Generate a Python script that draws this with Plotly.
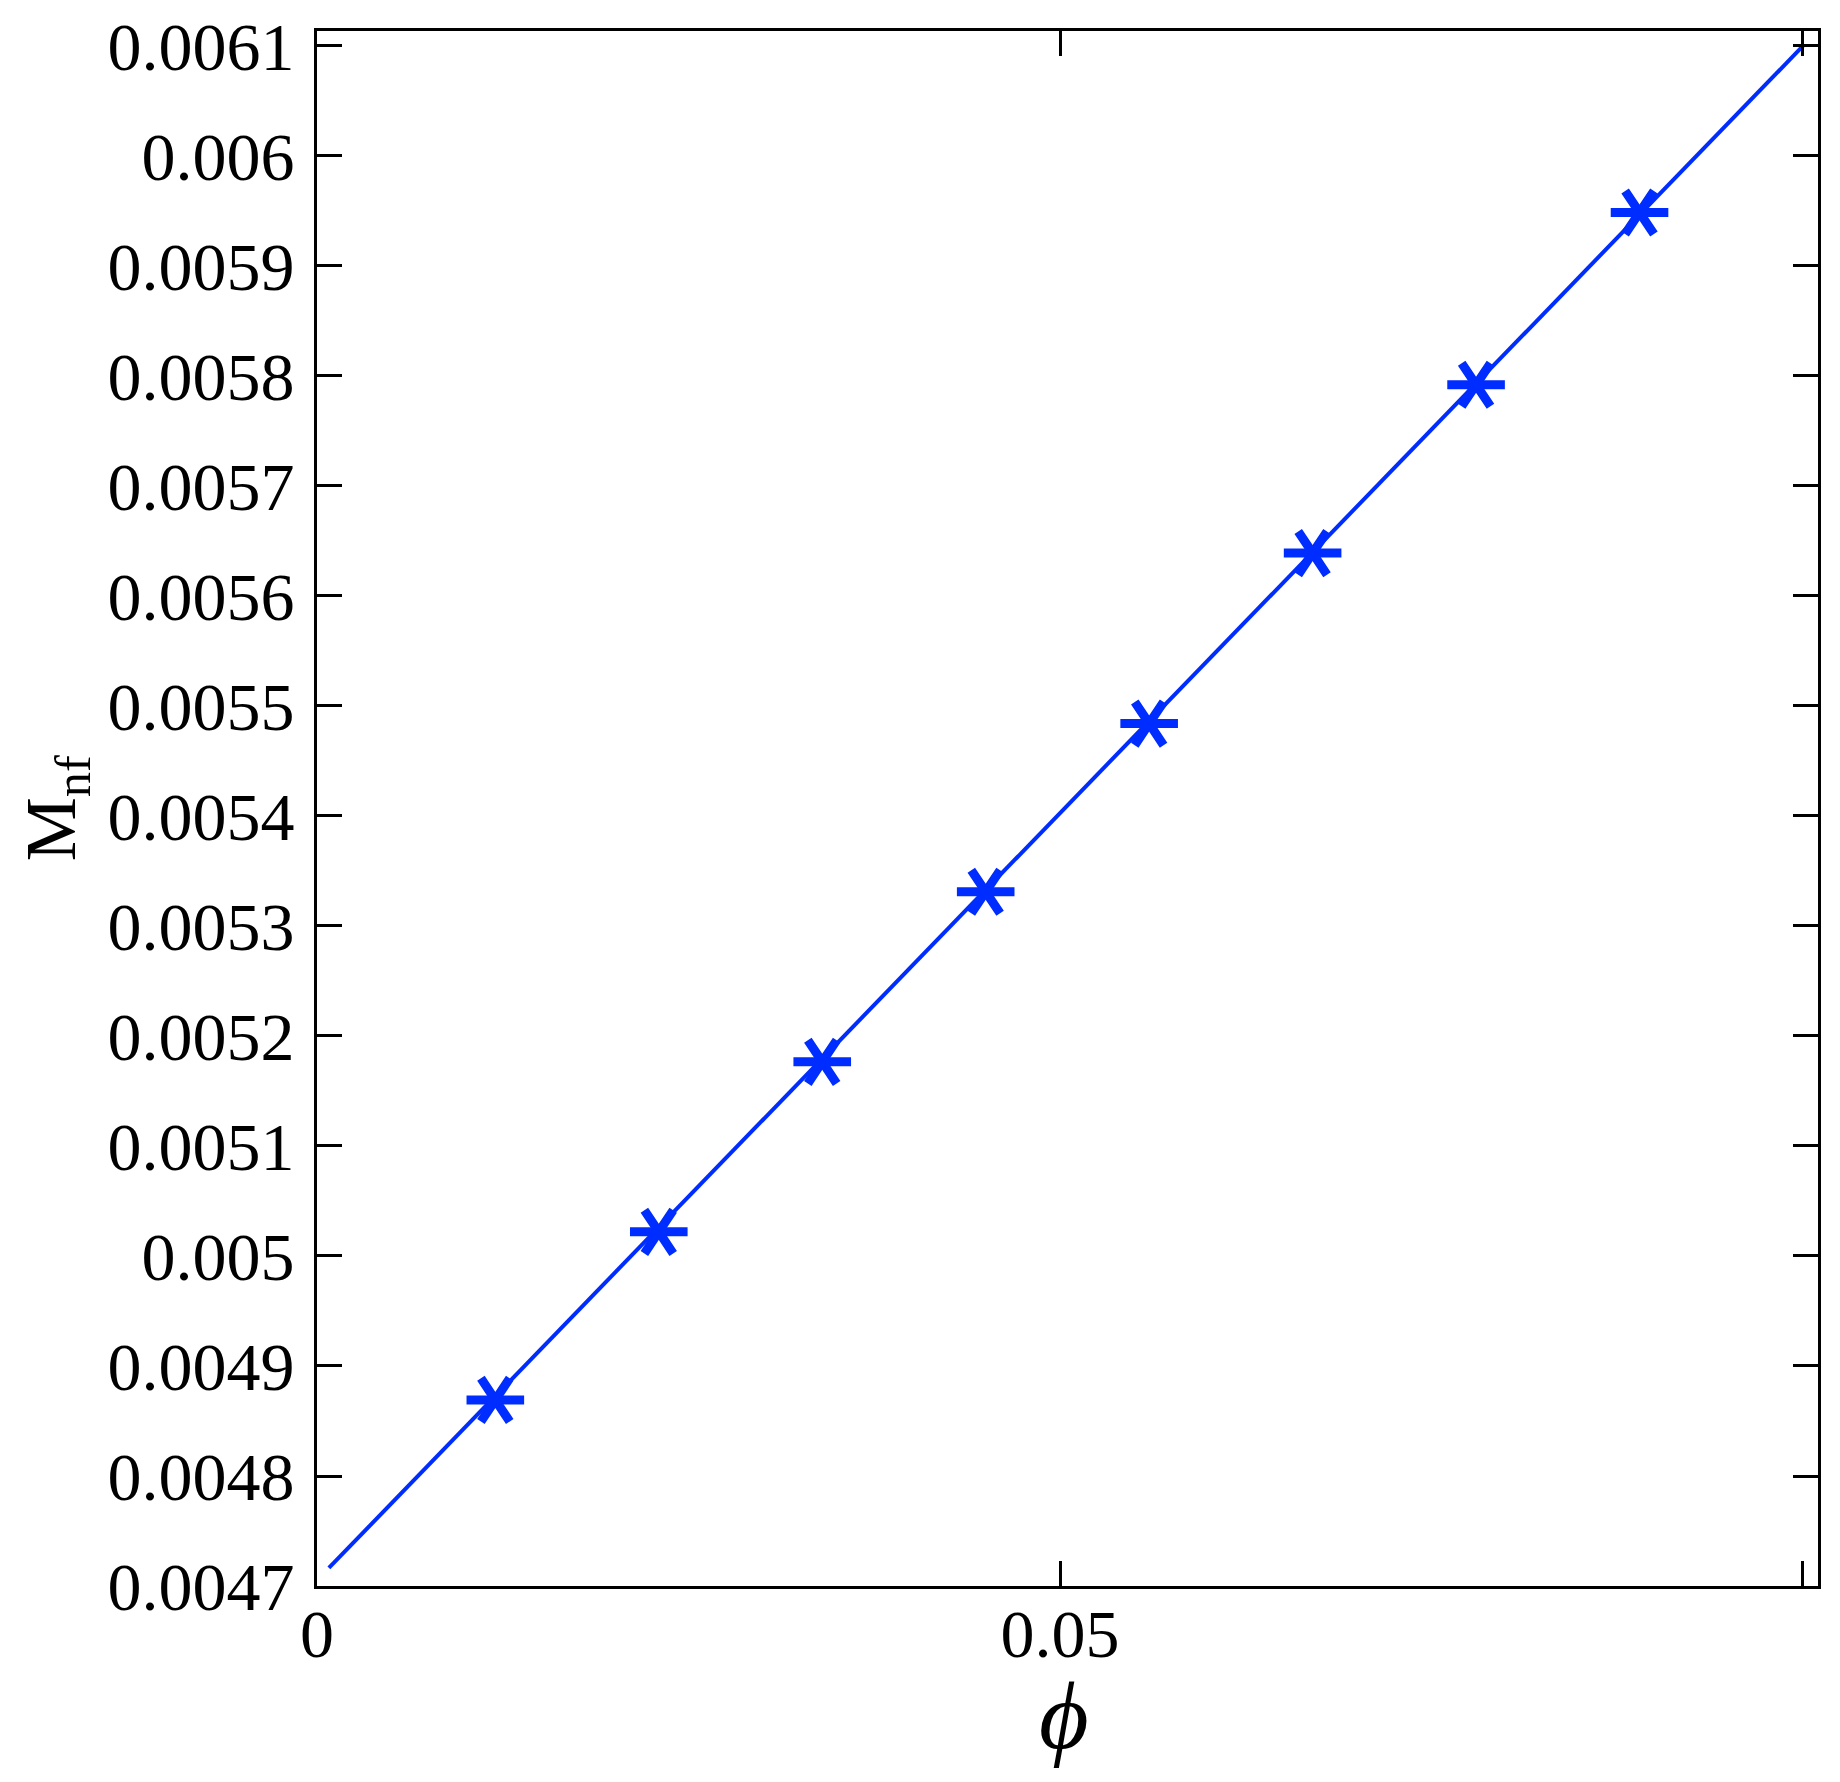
import plotly.graph_objects as go

# data
phi = [0.012, 0.023, 0.034, 0.045, 0.056, 0.067, 0.078, 0.089]
m_nf = [0.0048692, 0.0050220, 0.0051765, 0.0053311, 0.0054840, 0.0056390, 0.0057920, 0.0059486]

fit_phi = [0.0008, 0.1]
fit_m = [0.0047164, 0.0061]

x_ticks = [0, 0.05, 0.1]
x_ticktext = ["0", "0.05", ""]
y_ticktext = ["0.0047", "0.0048", "0.0049", "0.005", "0.0051", "0.0052", "0.0053",
              "0.0054", "0.0055", "0.0056", "0.0057", "0.0058", "0.0059", "0.006", "0.0061"]
y_ticks = [float(t) for t in y_ticktext]

BLUE = "rgb(0,45,255)"
FONT = "Liberation Serif, Times New Roman, serif"

fig = go.Figure()

fig.add_trace(go.Scatter(
    x=fit_phi, y=fit_m, mode="lines",
    line=dict(color=BLUE, width=4),
    showlegend=False,
))

# six-armed asterisk = y-left + y-right overlaid
for sym in ["y-left-open", "y-right-open"]:
    fig.add_trace(go.Scatter(
        x=phi, y=m_nf, mode="markers",
        marker=dict(symbol=sym, size=36, color=BLUE,
                    line=dict(color=BLUE, width=9)),
        showlegend=False,
    ))

axis_common = dict(
    showline=True, linecolor="black", linewidth=3, mirror="ticks",
    ticks="inside", ticklen=25, tickwidth=3, tickcolor="black",
    showgrid=False, zeroline=False, automargin=False,
    ticklabeloverflow="allow",
    tickfont=dict(family=FONT, size=68, color="black"),
)

# the page body adds an 8px offset, so the figure is 8px smaller
fig.update_layout(
    width=1832, height=1774,
    margin=dict(l=309, r=22, t=23, b=196, autoexpand=False),
    plot_bgcolor="white", paper_bgcolor="white",
    font=dict(family=FONT, color="black"),
    xaxis=dict(
        range=[0, 0.10101],
        tickvals=x_ticks, ticktext=x_ticktext,
        ticklabelstandoff=-14,
        **axis_common,
    ),
    yaxis=dict(
        range=[0.0047, 0.0061136],
        tickvals=y_ticks, ticktext=y_ticktext,
        ticklabelstandoff=6,
        **axis_common,
    ),
)

# axis titles placed as annotations so they can sit exactly where the reference has them
fig.add_annotation(
    text="<i>ϕ</i>", xref="paper", yref="paper", x=0.498, y=-0.083,
    xanchor="center", yanchor="middle", showarrow=False,
    font=dict(family=FONT, size=96, color="black"),
)
fig.add_annotation(
    text="M<sub>nf</sub>", xref="paper", yref="paper", x=-0.174, y=0.5,
    xanchor="center", yanchor="middle", textangle=-90, showarrow=False,
    font=dict(family=FONT, size=72, color="black"),
)

fig.write_html("out.html")
